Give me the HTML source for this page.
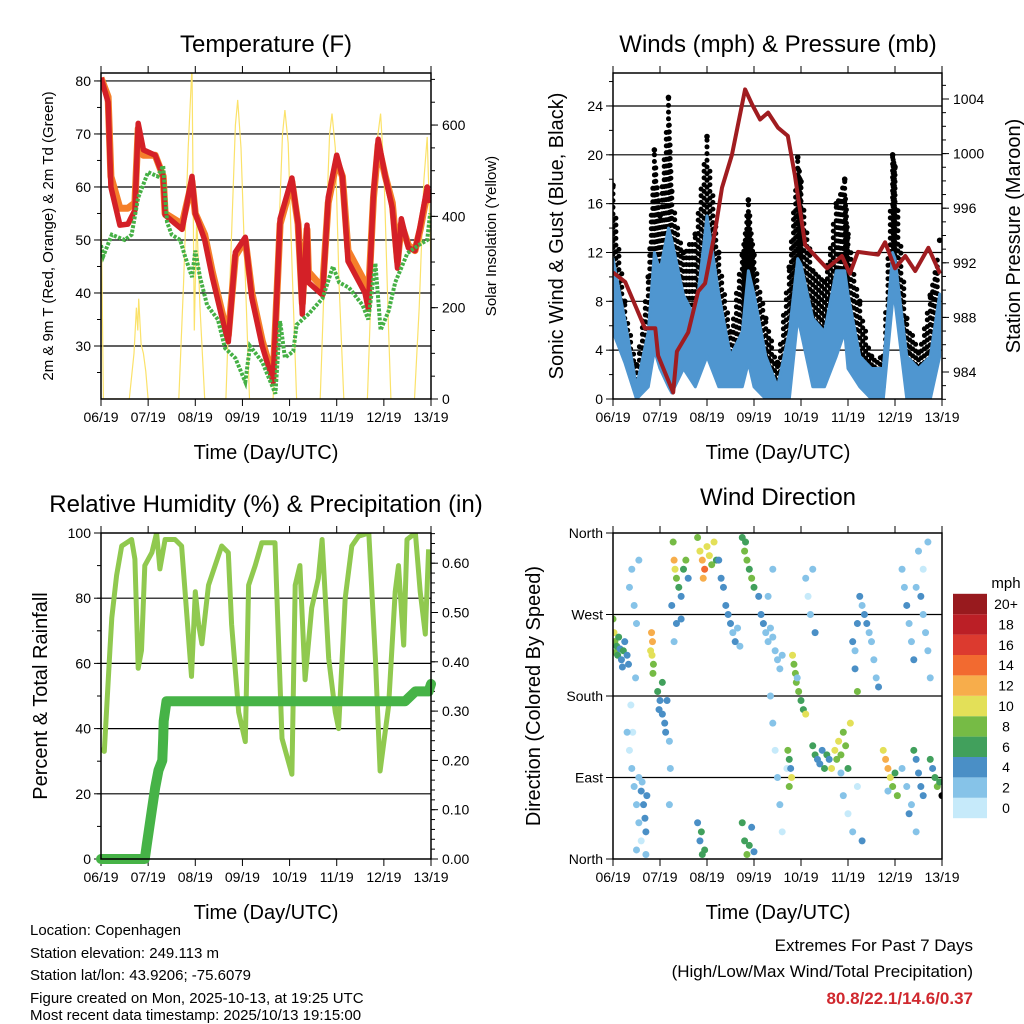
<!DOCTYPE html>
<html><head><meta charset="utf-8"><style>
html,body{margin:0;padding:0;background:#fff;}
svg{display:block;font-family:"Liberation Sans",Arial,sans-serif;}
</style></head><body>
<svg id="chart" width="1024" height="1024" viewBox="0 0 1024 1024" xmlns="http://www.w3.org/2000/svg">
<defs>
<clipPath id="c1"><rect x="101" y="73" width="330" height="326"/></clipPath>
<clipPath id="c2"><rect x="613" y="73" width="329" height="326"/></clipPath>
<clipPath id="c3"><rect x="101" y="533" width="330" height="326"/></clipPath>
<clipPath id="c4"><rect x="613" y="533" width="329" height="326"/></clipPath>
</defs>
<text x="266" y="52" font-size="24" text-anchor="middle">Temperature (F)</text>
<text x="778" y="52" font-size="24" text-anchor="middle">Winds (mph) &amp; Pressure (mb)</text>
<text x="266" y="512" font-size="24" text-anchor="middle">Relative Humidity (%) &amp; Precipitation (in)</text>
<text x="778" y="505" font-size="24" text-anchor="middle">Wind Direction</text>
<text x="266" y="459" font-size="20" text-anchor="middle">Time (Day/UTC)</text>
<text x="778" y="459" font-size="20" text-anchor="middle">Time (Day/UTC)</text>
<text x="266" y="919" font-size="20" text-anchor="middle">Time (Day/UTC)</text>
<text x="778" y="919" font-size="20" text-anchor="middle">Time (Day/UTC)</text>
<text transform="translate(53,236) rotate(-90)" font-size="15" text-anchor="middle">2m &amp; 9m T (Red, Orange) &amp; 2m Td (Green)</text>
<text transform="translate(496,236) rotate(-90)" font-size="15" text-anchor="middle">Solar Insolation (Yellow)</text>
<text transform="translate(563,236) rotate(-90)" font-size="20" text-anchor="middle">Sonic Wind &amp; Gust (Blue, Black)</text>
<text transform="translate(1020,236) rotate(-90)" font-size="20" text-anchor="middle">Station Pressure (Maroon)</text>
<text transform="translate(47,696) rotate(-90)" font-size="20" text-anchor="middle">Percent &amp; Total Rainfall</text>
<text transform="translate(540,696) rotate(-90)" font-size="20" text-anchor="middle">Direction (Colored By Speed)</text>
<g font-size="15">
<text x="30" y="935">Location: Copenhagen</text>
<text x="30" y="958">Station elevation: 249.113 m</text>
<text x="30" y="980">Station lat/lon: 43.9206; -75.6079</text>
<text x="30" y="1003">Figure created on Mon, 2025-10-13, at 19:25 UTC</text>
<text x="30" y="1020">Most recent data timestamp: 2025/10/13 19:15:00</text>
</g>
<g font-size="17" text-anchor="end">
<text x="973" y="951">Extremes For Past 7 Days</text>
<text x="973" y="977">(High/Low/Max Wind/Total Precipitation)</text>
<text x="973" y="1004" fill="#d0282e" font-weight="bold">80.8/22.1/14.6/0.37</text>
</g>
<text x="1006" y="588" font-size="15" text-anchor="middle">mph</text>
</svg>
<script>
// ---- data ----
const dayLabels=["06/19","07/19","08/19","09/19","10/19","11/19","12/19","13/19"];
const tempTimes=[0,0.15,0.21,0.4,0.57,0.72,0.79,0.9,1.15,1.32,1.36,1.72,1.93,2.0,2.2,2.36,2.63,2.7,2.85,3.06,3.2,3.42,3.65,3.8,4.05,4.18,4.27,4.37,4.4,4.7,4.82,5.0,5.12,5.24,5.6,5.67,5.78,5.88,6.03,6.18,6.29,6.37,6.52,6.66,6.77,6.92,6.98];
const tempRed=[80.6,76,60,52.8,53,55.6,72,67,66,62,54.7,52,62,55,50,43,33,30.8,47.7,50.5,39,30,23.2,54,61.7,53,36,52.8,42,39.6,58,66,62,46,40,37,59,69,62,56,44.7,54,48.5,48,52.6,60,57];
const tempOrange=[80.6,77,62,56,56,57,71,66,66,62,55,53,61,55,51,44,34,32,47,50,40,31,24,53,61,53,38,52,44,41,57,65,62,48,42,39,58,68,62,57,46,53,49,48,52,59,57];
const dewTimes=[0,0.05,0.23,0.5,0.65,0.79,1.0,1.2,1.32,1.4,1.5,1.68,1.78,1.93,2.0,2.1,2.25,2.48,2.63,2.85,3.06,3.16,3.42,3.7,3.8,3.9,4.08,4.15,4.4,4.7,4.92,5.05,5.26,5.55,5.67,5.82,5.93,6.1,6.24,6.5,6.73,6.92,6.98];
const dewVals=[49,47,51,50,51,58,62.8,62,64,53.4,51,50,47,43,48,43,37.7,35,29.6,27.7,23.2,30,27,21,34.7,27.8,29,34,36,39,45,42,41,37.7,35,45.6,33,36.6,42,47.5,49,50,55];
const solarTimes=[0,0.05,0.6,0.7,0.75,0.78,0.8,0.85,0.9,0.95,1.0,1.65,1.75,1.85,1.93,1.98,2.03,2.1,2.2,2.65,2.75,2.85,2.9,2.97,3.05,3.15,3.65,3.75,3.85,3.9,3.97,4.05,4.15,4.65,4.75,4.85,4.9,4.97,5.05,5.15,5.65,5.75,5.85,5.93,6.0,6.1,6.15,6.65,6.75,6.85,6.92,7.0];
const solarVals=[450,0,0,100,200,150,220,120,100,60,0,0,250,550,730,150,400,200,0,0,300,600,655,550,300,0,0,300,580,633,560,300,0,0,300,580,625,550,250,0,0,300,560,625,500,150,0,0,200,480,574,300];
const windTimes=[0,0.25,0.5,0.75,0.88,1.0,1.18,1.25,1.5,1.75,2.0,2.25,2.5,2.75,2.88,3.0,3.25,3.5,3.75,3.93,4.0,4.25,4.5,4.75,4.93,5.0,5.25,5.5,5.75,5.95,6.0,6.25,6.5,6.75,6.95];
const gustHi=[17.5,8,2.8,10,20.4,15,24.7,17,12,13.5,21.5,12,5.5,11.8,16.3,11.8,6.6,3,10.8,19.8,17.8,10.5,9.6,16,18,13.5,8,3.5,3.5,20,19,6.6,3.8,8.5,13];
const gustLo=[8,5.5,0.5,3.5,9,8,7,6,6.6,5.5,8,5.5,2.8,3.5,6,3.5,3,1,2.8,9,9.6,5.5,3.5,8,9,6.6,2.8,2.8,1,11,9,2.8,1,2.8,8];
const windHi=[11.5,6.5,1,5.5,12,10.5,14,13,8.5,6.6,15,8.6,3.5,5.5,10.5,8.6,3.5,1,5.5,11.5,11,6.6,5.5,10.5,10.5,8.6,3.5,2.5,2.5,12,11.5,3.5,2.5,3.5,8.6];
const windLo=[5.5,3,0,1,4,2.5,1,0.5,2.5,1,3.5,1,1,1,3,1,0,0,0,6.6,5.5,1,1,3.5,5.5,2.5,1,0,0,8,8,0,0,0,3.5];
const presTimes=[0,0.26,0.47,0.68,0.9,0.96,1.28,1.36,1.6,1.81,1.96,2.17,2.32,2.53,2.81,2.96,3.13,3.3,3.51,3.72,3.87,4.09,4.36,4.55,4.87,5.04,5.21,5.64,5.79,6.0,6.22,6.43,6.71,6.96];
const presVals=[991.3,990.6,988.9,987.2,987.2,985.2,982.5,985.5,986.9,989.9,990.5,994.3,997.5,999.9,1004.7,1003.6,1002.5,1003,1001.9,1001.3,998.4,993.3,992.3,991.6,992.5,991.2,992.8,992.6,993.5,991.6,992.5,991.4,993.1,991.2];
const rhTimes=[0,0.07,0.19,0.23,0.33,0.44,0.65,0.72,0.79,0.86,0.93,1.08,1.18,1.25,1.36,1.57,1.71,1.92,2.0,2.07,2.14,2.28,2.42,2.56,2.7,2.77,2.92,3.06,3.13,3.27,3.41,3.69,3.84,4.05,4.12,4.22,4.33,4.47,4.61,4.69,4.83,4.97,5.04,5.18,5.32,5.46,5.68,5.82,5.92,6.1,6.24,6.31,6.42,6.49,6.67,6.77,6.88,6.95];
const rhVals=[34,33,64.6,74,87,96,98,92,58.5,64,90,94,100,89,98,98,96,56,82,72,66,84,90,96,94,72,45,36,84,90,97,97,37,26,84,90,55,77,86,98,61.5,45,40,80,96,99,100,61.5,27,47,82,90,65.6,98,100,82,69,95];
const rainTimes=[0,0.93,0.97,1.08,1.15,1.22,1.3,1.32,1.33,1.39,6.45,6.67,6.95,7.0];
const rainVals=[0,0,0.028,0.10,0.145,0.18,0.2,0.245,0.28,0.32,0.32,0.34,0.34,0.355];
const dirDays=[0.0,0.02,0.04,0.05,0.08,0.1,0.12,0.15,0.18,0.2,0.22,0.25,0.3,0.33,0.35,0.4,0.45,0.5,0.55,0.48,0.38,0.42,0.3,0.35,0.4,0.45,0.5,0.55,0.6,0.55,0.6,0.65,0.68,0.7,0.72,0.62,0.5,0.7,0.82,0.84,0.83,0.86,0.85,0.8,0.95,1.0,1.05,1.1,1.12,0.98,1.05,1.15,1.2,1.22,1.2,1.28,1.3,1.32,1.35,1.4,1.45,1.5,1.55,1.6,1.25,1.35,1.3,1.45,1.8,1.85,1.9,1.88,1.95,1.8,1.85,1.9,1.95,2.0,2.05,2.1,2.15,2.2,1.92,2.25,2.3,2.35,2.4,2.45,2.5,2.55,2.6,2.65,2.7,2.75,2.8,2.85,2.9,2.95,3.0,2.82,2.75,2.8,2.85,2.9,2.95,3.0,3.1,3.15,3.2,3.25,3.3,3.35,3.4,3.45,3.5,3.55,3.6,3.3,3.4,3.35,3.4,3.45,3.5,3.55,3.6,3.7,3.75,3.72,3.75,3.78,3.8,3.82,3.85,3.88,3.9,3.95,4.0,4.05,4.1,3.92,4.1,4.15,4.2,4.25,4.3,4.25,4.3,4.35,4.4,4.45,4.5,4.55,4.6,4.65,4.72,4.76,4.8,4.85,4.9,4.95,5.0,5.05,4.85,4.9,5.0,5.1,5.2,5.3,5.1,5.15,5.2,5.25,5.3,5.35,5.4,5.45,5.5,5.55,5.6,5.65,5.15,5.2,5.75,5.8,5.85,5.9,5.95,6.0,6.05,5.85,6.15,6.2,6.25,6.3,6.35,6.4,6.45,6.5,6.55,6.6,6.65,6.7,6.75,6.6,6.7,6.15,6.25,6.35,6.45,6.3,6.4,6.45,6.5,6.55,6.6,6.75,6.8,6.85,6.9,6.95,7.0];
const dirDeg=[265,250,240,228,235,225,245,232,220,212,230,240,225,215,300,320,280,260,330,200,170,140,140,120,100,80,60,40,20,90,75,60,45,30,70,85,10,5,250,240,225,215,205,230,185,175,160,150,140,165,195,175,130,100,60,350,330,320,310,300,290,320,330,310,280,260,240,265,40,20,5,30,10,355,340,330,320,345,335,325,350,330,310,330,310,300,280,270,260,250,240,255,235,355,340,330,320,310,300,350,40,20,5,15,35,8,290,270,260,250,240,255,245,230,220,210,225,290,320,180,150,120,90,60,30,100,80,120,110,100,90,225,215,205,195,185,175,165,160,200,310,290,270,320,250,125,115,110,105,120,100,115,110,100,120,110,130,115,140,125,100,150,95,70,50,30,80,20,240,230,260,290,280,270,260,250,240,220,200,190,210,185,120,110,100,90,80,95,70,75,320,300,280,260,240,220,300,340,290,270,250,230,200,320,350,100,80,60,30,50,120,110,95,80,70,110,100,90,80,85,70];
const dirSpeed=[8,9,7,8,6,5,5,4,4,4,5,4,4,3,1,1,1,1,1,1,0,0,1,0,1,1,1,1,0,2,3,4,4,4,3,2,1,1,12,11,9,8,8,10,6,4,4,4,3,4,6,4,2,1,1,8,12,10,8,5,4,6,8,4,3,4,2,3,4,4,5,6,6,8,10,12,14,10,9,8,10,6,11,4,4,4,3,4,3,2,3,2,1,6,8,7,6,7,6,6,6,6,7,5,4,4,3,4,3,2,2,1,1,1,2,1,1,1,1,1,1,0,1,1,0,0,8,7,6,4,10,9,8,8,8,7,6,5,10,1,1,0,1,1,4,5,6,4,4,3,5,6,4,10,9,8,10,8,7,8,6,9,1,1,0,1,0,4,3,2,4,3,2,3,4,2,2,2,1,3,4,8,10,12,11,9,8,6,8,1,1,2,3,1,2,3,1,2,3,2,1,1,1,0,2,1,1,1,1,4,5,4,3,3,4,5,4,6,8,6];
const speedColors=["#c6eafa","#86c3e8","#4a8fc6","#41a05c","#76bb45","#e3e058","#f7ad4b","#f26a30","#dc3a2f","#bb1f26","#981a1e"];
const speedLabels=["0","2","4","6","8","10","12","14","16","18","20+"];

// ---- helpers ----
const NS="http://www.w3.org/2000/svg";
const svg=document.getElementById('chart');
function mk(tag,attrs,parent){const e=document.createElementNS(NS,tag);for(const k in attrs)e.setAttribute(k,attrs[k]);(parent||svg).appendChild(e);return e;}
function linear(d0,d1,r0,r1){return v=>r0+(v-d0)*(r1-r0)/(d1-d0);}
const P={t:{x0:101,x1:431,y0:73,y1:399},w:{x0:613,x1:942,y0:73,y1:399},r:{x0:101,x1:431,y0:533,y1:859},d:{x0:613,x1:942,y0:533,y1:859}};
const xT=linear(0,7,101,431), xW=linear(0,7,613,942);
const yTemp=linear(20,81.5,399,73), ySolar=linear(0,714,399,73);
const yWind=linear(0,26.7,399,73), yPres=linear(984,1004,372,99);
const yRH=linear(0,100,859,533), yRain=linear(0,0.66125,859,533);
const yDir=linear(0,360,859,533);
function pts(ts,vs,fx,fy){return ts.map((t,i)=>fx(t).toFixed(1)+','+fy(vs[i]).toFixed(1)).join(' ');}

function frame(p,name){
  const g=mk('g',{});
  
  
  return g;
}
function gridAndAxes(p,g,leftTicks,yL,leftFmt,gridVals,rightTicks,yR,rightFmt,leftMinor,rightMinor,fx,prefix){
  gridVals.forEach(v=>{const l=mk('line',{x1:p.x0,x2:p.x1,y1:yL(v),y2:yL(v),stroke:'#000','stroke-width':1.2},g);
    
    });
  leftMinor.forEach(v=>{mk('line',{x1:p.x0-4,x2:p.x0,y1:yL(v),y2:yL(v),stroke:'#000','stroke-width':1},g);});
  leftTicks.forEach((v,i)=>{mk('line',{x1:p.x0-7,x2:p.x0,y1:yL(v),y2:yL(v),stroke:'#000','stroke-width':1},g);
    const t=mk('text',{x:p.x0-10,y:yL(v)+5,'font-size':14,'text-anchor':'end'},g);t.textContent=leftFmt[i];
    
    });
  if(rightTicks){
    rightMinor.forEach(v=>{mk('line',{x1:p.x1,x2:p.x1+4,y1:yR(v),y2:yR(v),stroke:'#000','stroke-width':1},g);});
    rightTicks.forEach((v,i)=>{mk('line',{x1:p.x1,x2:p.x1+7,y1:yR(v),y2:yR(v),stroke:'#000','stroke-width':1},g);
      const t=mk('text',{x:p.x1+11,y:yR(v)+5,'font-size':14,'text-anchor':'start'},g);t.textContent=rightFmt[i];
      
      });
  }
  dayLabels.forEach((lab,i)=>{const x=fx(i);
    mk('line',{x1:x,x2:x,y1:p.y1,y2:p.y1+7,stroke:'#000','stroke-width':1},g);
    mk('line',{x1:x,x2:x,y1:p.y0-7,y2:p.y0,stroke:'#000','stroke-width':1},g);
    const t=mk('text',{x:x,y:p.y1+23,'font-size':14,'text-anchor':'middle'},g);t.textContent=lab;
    
    });
}
function box(p,g,name){const r=mk('rect',{x:p.x0,y:p.y0,width:p.x1-p.x0,height:p.y1-p.y0,fill:'none',stroke:'#000','stroke-width':1.5},g);
  
  }
function range(a,b,s){const o=[];for(let v=a;v<=b+1e-9;v+=s)o.push(+v.toFixed(4));return o;}

// ---- Panel 1: Temperature ----
const g1=frame(P.t,'temperature-panel');
gridAndAxes(P.t,g1,[30,40,50,60,70,80],yTemp,["30","40","50","60","70","80"],[30,40,50,60,70,80],[0,200,400,600],ySolar,["0","200","400","600"],range(25,80,5),range(0,700,50),xT,'temp');
const c1=mk('g',{'clip-path':'url(#c1)'},g1);
const solar=mk('polyline',{points:pts(solarTimes,solarVals,xT,ySolar),fill:'none',stroke:'#fbe26a','stroke-width':1.2},c1);


const orange=mk('polyline',{points:pts(tempTimes,tempOrange,xT,yTemp),fill:'none',stroke:'#f57f2a','stroke-width':7,'stroke-linejoin':'round'},c1);


const red=mk('polyline',{points:pts(tempTimes,tempRed,xT,yTemp),fill:'none',stroke:'#d42027','stroke-width':5.5,'stroke-linejoin':'round'},c1);


const dew=mk('polyline',{points:pts(dewTimes,dewVals,xT,yTemp),fill:'none',stroke:'#45b045','stroke-width':4,'stroke-dasharray':'3 1.5'},c1);


box(P.t,g1,'temperature-plot-area');

// ---- Panel 2: Winds ----
const g2=frame(P.w,'winds-panel');
gridAndAxes(P.w,g2,[0,4,8,12,16,20,24],yWind,["0","4","8","12","16","20","24"],[4,8,12,16,20,24],[984,988,992,996,1000,1004],yPres,["984","988","992","996","1000","1004"],range(0,26,2),range(982,1005,1),xW,'winds');
const c2=mk('g',{'clip-path':'url(#c2)'},g2);
const gustG=mk('g',{fill:'#000'},c2);


for(let i=0;i<windTimes.length-1;i++){
  const n=4;
  for(let k=0;k<n;k++){
    const f=k/n;
    const t=windTimes[i]+f*(windTimes[i+1]-windTimes[i]);
    const hi=gustHi[i]+f*(gustHi[i+1]-gustHi[i]);
    const lo=gustLo[i]+f*(gustLo[i+1]-gustLo[i]);
    const off=(k%2)*0.28;
    for(let v=lo+off;v<=hi;v+=0.55){
      const c=mk('circle',{cx:xW(t).toFixed(1),cy:yWind(v).toFixed(1),r:2.5},gustG);
      
      
    }
  }
}
windTimes.forEach((t,i)=>{const c=mk('circle',{cx:xW(t),cy:yWind(gustHi[i]),r:2.8,fill:'#000'},c2);
  
  });
const windBand=mk('polygon',{points:pts(windTimes,windHi,xW,yWind)+' '+pts(windTimes.slice().reverse(),windLo.slice().reverse(),xW,yWind),fill:'#4f96d0',stroke:'#4f96d0','stroke-width':3,'stroke-linejoin':'round'},c2);


const pres=mk('polyline',{points:pts(presTimes,presVals,xW,yPres),fill:'none',stroke:'#a01c20','stroke-width':4,'stroke-linejoin':'round'},c2);


box(P.w,g2,'winds-plot-area');

// ---- Panel 3: RH ----
const g3=frame(P.r,'humidity-panel');
gridAndAxes(P.r,g3,[0,20,40,60,80,100],yRH,["0","20","40","60","80","100"],[20,40,60,80],[0,0.1,0.2,0.3,0.4,0.5,0.6],yRain,["0.00","0.10","0.20","0.30","0.40","0.50","0.60"],range(0,100,10),range(0,0.66,0.02),xT,'rh');
const c3=mk('g',{'clip-path':'url(#c3)'},g3);
const rh=mk('polyline',{points:pts(rhTimes,rhVals,xT,yRH),fill:'none',stroke:'#90c94f','stroke-width':5,'stroke-linejoin':'round'},c3);


const rain=mk('polyline',{points:pts(rainTimes,rainVals,xT,yRain),fill:'none',stroke:'#46b347','stroke-width':10,'stroke-linejoin':'round','stroke-linecap':'round'},g3);


box(P.r,g3,'humidity-plot-area');

// ---- Panel 4: Wind direction ----
const g4=frame(P.d,'wind-direction-panel');
gridAndAxes(P.d,g4,[0,90,180,270,360],yDir,["North","East","South","West","North"],[90,180,270],null,null,null,[],[],xW,'dir');
const c4=mk('g',{'clip-path':'url(#c4)'},g4);
dirDays.forEach((d,i)=>{const idx=Math.min(10,Math.round(dirSpeed[i]/2));
  const c=mk('circle',{cx:xW(d),cy:yDir(dirDeg[i]),r:3.5,fill:speedColors[idx]},c4);
  
  });
box(P.d,g4,'wind-direction-plot-area');

// ---- colorbar ----
const cb=mk('g',{});


speedLabels.forEach((lab,i)=>{const y=808-i*20.4;
  const r=mk('rect',{x:953,y:y-10.2,width:34,height:20.4,fill:speedColors[i]},cb);
  
  
  const t=mk('text',{x:1006,y:y+5,'font-size':14,'text-anchor':'middle'},cb);t.textContent=lab;
  
  });
</script>
</body></html>
